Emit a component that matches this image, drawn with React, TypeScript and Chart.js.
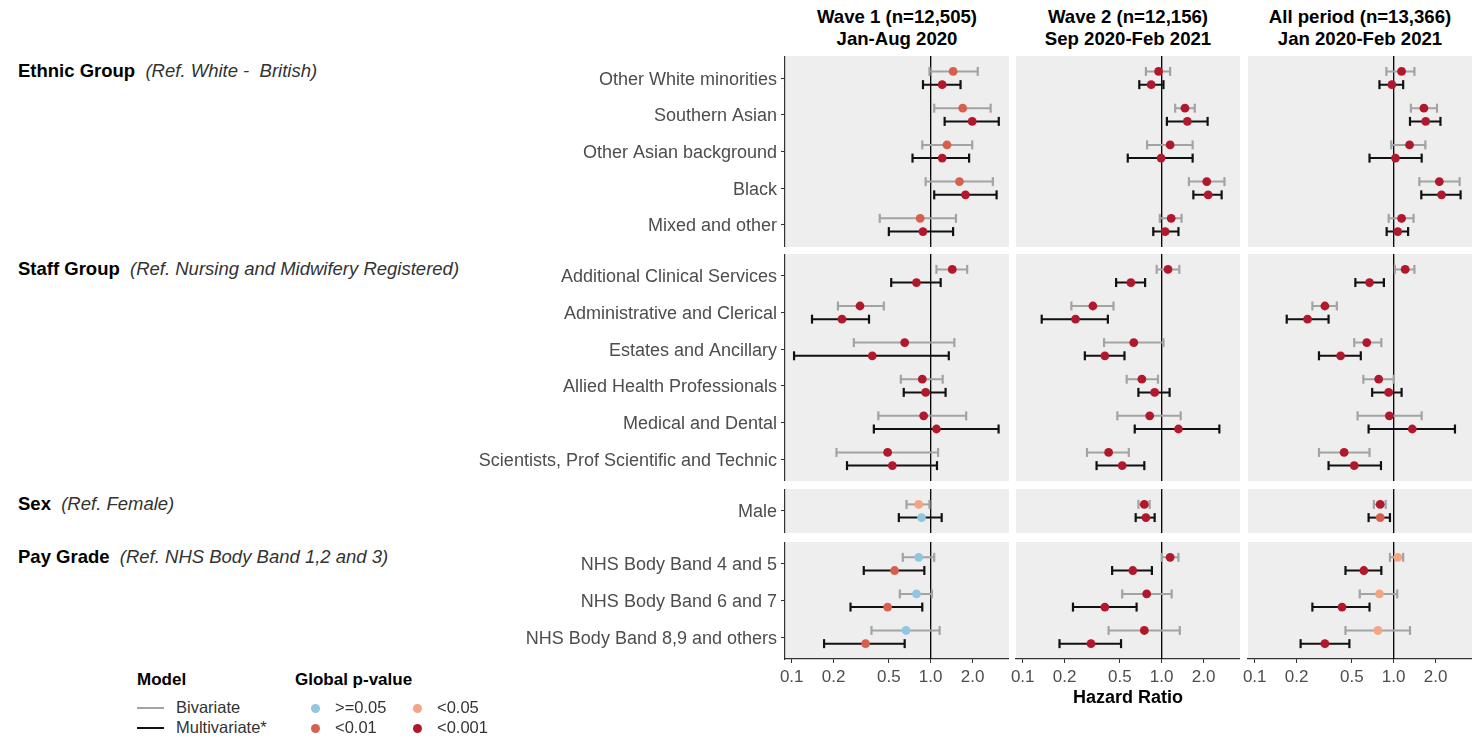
import React, { useEffect, useRef } from "react";
import { Chart, registerables } from "chart.js";

Chart.register(...registerables);

// ---------------- DATA ----------------
const categories = [
  "Other White minorities",
  "Southern Asian",
  "Other Asian background",
  "Black",
  "Mixed and other",
  "Additional Clinical Services",
  "Administrative and Clerical",
  "Estates and Ancillary",
  "Allied Health Professionals",
  "Medical and Dental",
  "Scientists, Prof Scientific and Technic",
  "Male",
  "NHS Body Band 4 and 5",
  "NHS Body Band 6 and 7",
  "NHS Body Band 8,9 and others",
];
const groupSizes = [5, 6, 1, 3];
const groupTitles = ["Ethnic Group", "Staff Group", "Sex", "Pay Grade"];
const groupRefs = [
  "(Ref. White -  British)",
  "(Ref. Nursing and Midwifery Registered)",
  "(Ref. Female)",
  "(Ref. NHS Body Band 1,2 and 3)",
];
const waveTitles = ["Wave 1 (n=12,505)", "Wave 2 (n=12,156)", "All period (n=13,366)"];
const wavePeriods = ["Jan-Aug 2020", "Sep 2020-Feb 2021", "Jan 2020-Feb 2021"];
const xTicks = [0.1, 0.2, 0.5, 1.0, 2.0];
const refLine = 1;
const pLevels = [">=0.05", "<0.05", "<0.01", "<0.001"];
const pColors = ["#92C5DE", "#F4A582", "#D6604D", "#B2182B"];

// Wave 1
const w1BivEst = [1.45, 1.7, 1.31, 1.61, 0.84, 1.43, 0.31, 0.65, 0.87, 0.89, 0.49, 0.82, 0.82, 0.79, 0.665];
const w1BivLo = [0.98, 1.06, 0.87, 0.92, 0.43, 1.1, 0.215, 0.28, 0.61, 0.42, 0.21, 0.67, 0.63, 0.6, 0.375];
const w1BivHi = [2.18, 2.7, 1.99, 2.8, 1.52, 1.83, 0.46, 1.48, 1.22, 1.8, 1.13, 0.98, 1.06, 1.02, 1.16];
const w1BivP = [2, 2, 2, 2, 2, 3, 3, 3, 3, 3, 3, 1, 0, 0, 0];
const w1MulEst = [1.21, 1.99, 1.21, 1.78, 0.88, 0.79, 0.23, 0.38, 0.92, 1.1, 0.53, 0.86, 0.55, 0.49, 0.34];
const w1MulLo = [0.88, 1.26, 0.74, 1.06, 0.5, 0.52, 0.14, 0.104, 0.64, 0.39, 0.25, 0.59, 0.33, 0.265, 0.171];
const w1MulHi = [1.64, 3.09, 1.89, 2.98, 1.45, 1.18, 0.36, 1.35, 1.28, 3.08, 1.11, 1.2, 0.9, 0.87, 0.65];
const w1MulP = [3, 3, 3, 3, 3, 3, 3, 3, 3, 3, 3, 0, 2, 2, 2];

// Wave 2
const w2BivEst = [0.95, 1.47, 1.15, 2.11, 1.17, 1.11, 0.32, 0.63, 0.72, 0.82, 0.415, 0.75, 1.15, 0.78, 0.75];
const w2BivLo = [0.77, 1.25, 0.785, 1.57, 0.97, 0.92, 0.224, 0.385, 0.56, 0.48, 0.29, 0.68, 1.0, 0.52, 0.415];
const w2BivHi = [1.15, 1.73, 1.67, 2.83, 1.39, 1.34, 0.45, 1.03, 0.94, 1.37, 0.58, 0.82, 1.32, 1.18, 1.35];
const w2BivP = [3, 3, 3, 3, 3, 3, 3, 3, 3, 3, 3, 3, 3, 3, 3];
const w2MulEst = [0.84, 1.53, 0.99, 2.16, 1.06, 0.6, 0.24, 0.39, 0.89, 1.32, 0.52, 0.77, 0.62, 0.39, 0.31];
const w2MulLo = [0.69, 1.09, 0.57, 1.69, 0.87, 0.47, 0.137, 0.28, 0.68, 0.64, 0.34, 0.65, 0.44, 0.23, 0.184];
const w2MulHi = [1.03, 2.14, 1.67, 2.7, 1.32, 0.76, 0.41, 0.54, 1.14, 2.6, 0.75, 0.89, 0.85, 0.66, 0.51];
const w2MulP = [3, 3, 3, 3, 3, 3, 3, 3, 3, 3, 3, 3, 3, 3, 3];

// All period
const w3BivEst = [1.14, 1.65, 1.3, 2.13, 1.14, 1.21, 0.32, 0.64, 0.78, 0.93, 0.44, 0.8, 1.07, 0.79, 0.77];
const w3BivLo = [0.886, 1.33, 0.96, 1.53, 0.92, 1.02, 0.26, 0.52, 0.605, 0.55, 0.29, 0.72, 0.94, 0.57, 0.45];
const w3BivHi = [1.41, 2.05, 1.69, 2.98, 1.39, 1.41, 0.39, 0.815, 1.0, 1.59, 0.67, 0.876, 1.17, 1.06, 1.31];
const w3BivP = [3, 3, 3, 3, 3, 3, 3, 3, 3, 3, 3, 3, 1, 1, 1];
const w3MulEst = [0.97, 1.7, 1.03, 2.21, 1.07, 0.67, 0.24, 0.415, 0.92, 1.36, 0.52, 0.8, 0.61, 0.425, 0.32];
const w3MulLo = [0.79, 1.31, 0.67, 1.58, 0.89, 0.53, 0.17, 0.29, 0.7, 0.66, 0.34, 0.66, 0.45, 0.26, 0.214];
const w3MulHi = [1.17, 2.17, 1.59, 3.03, 1.27, 0.85, 0.34, 0.58, 1.14, 2.76, 0.81, 0.94, 0.815, 0.67, 0.48];
const w3MulP = [3, 3, 3, 3, 3, 3, 3, 3, 3, 3, 3, 2, 3, 3, 3];

const waves = [
  { bivEst: w1BivEst, bivLo: w1BivLo, bivHi: w1BivHi, bivP: w1BivP, mulEst: w1MulEst, mulLo: w1MulLo, mulHi: w1MulHi, mulP: w1MulP },
  { bivEst: w2BivEst, bivLo: w2BivLo, bivHi: w2BivHi, bivP: w2BivP, mulEst: w2MulEst, mulLo: w2MulLo, mulHi: w2MulHi, mulP: w2MulP },
  { bivEst: w3BivEst, bivLo: w3BivLo, bivHi: w3BivHi, bivP: w3BivP, mulEst: w3MulEst, mulLo: w3MulLo, mulHi: w3MulHi, mulP: w3MulP },
];

// ---------------- LAYOUT / STYLE ----------------
const FONT = "'Liberation Sans', Arial, Helvetica, sans-serif";
const COL_LEFT = [785, 1016, 1248];
const COL_W = 224;
const ROW_TOP = [56, 254, 489, 542];
const ROW_H = [191, 227, 44, 117];
const Y_AXIS_W = 325;
const X_AXIS_H = 55;
const X_EXTRA = 8;
const DODGE = 0.18;
const X_MIN = 0.0895;
const X_MAX = 3.66;
const BIV_COLOR = "#A3A3A3";
const MUL_COLOR = "#111111";
const PANEL_BG = "#EEEEEE";
const AXIS_COLOR = "#333333";
const TEXT_GREY = "#4D4D4D";

const bgPlugin = {
  id: "panelBg",
  beforeDraw(chart: any) {
    const { ctx, chartArea } = chart;
    if (!chartArea) return;
    ctx.save();
    ctx.fillStyle = PANEL_BG;
    ctx.fillRect(chartArea.left, chartArea.top, chartArea.right - chartArea.left, chartArea.bottom - chartArea.top);
    ctx.restore();
  },
};

function Panel({ wave, group }: { wave: number; group: number }) {
  const ref = useRef<HTMLCanvasElement>(null);
  const showY = wave === 0;
  const showX = group === 3;
  const extraLeft = showY ? Y_AXIS_W : showX ? X_EXTRA : 0;
  const left = COL_LEFT[wave] - extraLeft;
  const width = COL_W + extraLeft;
  const top = ROW_TOP[group];
  const height = ROW_H[group] + (showX ? X_AXIS_H : 0);

  useEffect(() => {
    const start = groupSizes.slice(0, group).reduce((a, b) => a + b, 0);
    const n = groupSizes[group];
    const cats = categories.slice(start, start + n);
    const W = waves[wave];

    const bivPts: any[] = [];
    const bivCols: string[] = [];
    const mulPts: any[] = [];
    const mulCols: string[] = [];
    const bivCI: any[] = [];
    const mulCI: any[] = [];
    for (let i = 0; i < n; i++) {
      const k = start + i;
      const yb = i + 1 - DODGE;
      const ym = i + 1 + DODGE;
      bivPts.push({ x: W.bivEst[k], y: yb });
      bivCols.push(pColors[W.bivP[k]]);
      mulPts.push({ x: W.mulEst[k], y: ym });
      mulCols.push(pColors[W.mulP[k]]);
      bivCI.push({ x: W.bivLo[k], y: yb }, { x: W.bivHi[k], y: yb }, { x: W.bivHi[k], y: null });
      mulCI.push({ x: W.mulLo[k], y: ym }, { x: W.mulHi[k], y: ym }, { x: W.mulHi[k], y: null });
    }

    const ciStyle = (color: string) => ({
      showLine: true,
      spanGaps: false,
      borderColor: color,
      borderWidth: 2,
      pointStyle: "line",
      pointRotation: 90,
      pointRadius: 4.5,
      pointBorderColor: color,
      pointBorderWidth: 2.2,
      pointBackgroundColor: color,
      order: 3,
    });

    const chart = new Chart(ref.current as HTMLCanvasElement, {
      type: "scatter",
      data: {
        datasets: [
          {
            data: [
              { x: refLine, y: 0.4 },
              { x: refLine, y: n + 0.6 },
            ],
            showLine: true,
            borderColor: "#000000",
            borderWidth: 1.3,
            pointRadius: 0,
            order: 5,
          } as any,
          { data: bivCI, ...ciStyle(BIV_COLOR) } as any,
          { data: mulCI, ...ciStyle(MUL_COLOR) } as any,
          {
            data: bivPts,
            pointRadius: 4.4,
            pointStyle: "circle",
            pointBackgroundColor: bivCols,
            pointBorderColor: bivCols,
            pointBorderWidth: 0,
            order: 1,
          } as any,
          {
            data: mulPts,
            pointRadius: 4.4,
            pointStyle: "circle",
            pointBackgroundColor: mulCols,
            pointBorderColor: mulCols,
            pointBorderWidth: 0,
            order: 1,
          } as any,
        ],
      },
      options: {
        responsive: false,
        animation: false,
        events: [],
        layout: { autoPadding: false, padding: { left: !showY && showX ? X_EXTRA : 0, top: 0, right: 0, bottom: 0 } },
        plugins: { legend: { display: false }, tooltip: { enabled: false } },
        scales: {
          x: {
            type: "logarithmic",
            min: X_MIN,
            max: X_MAX,
            display: showX,
            position: "bottom",
            afterBuildTicks: (s: any) => {
              s.ticks = xTicks.map((v) => ({ value: v }));
            },
            afterFit: (s: any) => {
              if (!showX) return;
              s.height = X_AXIS_H;
              s.paddingLeft = 0;
              s.paddingRight = 0;
            },
            ticks: {
              callback: (v: any) => Number(v).toFixed(1),
              font: { family: FONT, size: 17 },
              color: TEXT_GREY,
              padding: 4,
              maxRotation: 0,
              autoSkip: false,
            },
            grid: { display: true, drawOnChartArea: false, drawTicks: true, tickLength: 4, color: AXIS_COLOR, lineWidth: 1 },
            border: { display: true, color: AXIS_COLOR, width: 1.2 },
            title: {
              display: wave === 1,
              text: "Hazard Ratio",
              font: { family: FONT, size: 18, weight: "bold" },
              color: "#000000",
              padding: { top: 0, bottom: 5 },
            },
          } as any,
          y: {
            type: "linear",
            reverse: true,
            min: 0.4,
            max: n + 0.6,
            display: showY,
            position: "left",
            afterBuildTicks: (s: any) => {
              s.ticks = cats.map((_, i) => ({ value: i + 1 }));
            },
            afterFit: (s: any) => {
              if (!showY) return;
              s.width = Y_AXIS_W;
              s.paddingTop = 0;
              s.paddingBottom = 0;
            },
            ticks: {
              callback: (v: any) => cats[Math.round(Number(v)) - 1],
              font: { family: FONT, size: 18 },
              color: TEXT_GREY,
              padding: 4,
              labelOffset: 1.5,
              autoSkip: false,
            },
            grid: { display: true, drawOnChartArea: false, drawTicks: true, tickLength: 4, color: AXIS_COLOR, lineWidth: 1 },
            border: { display: true, color: AXIS_COLOR, width: 1.2 },
          } as any,
        },
      },
      plugins: [bgPlugin],
    } as any);
    return () => chart.destroy();
  }, [wave, group]);

  return (
    <canvas
      ref={ref}
      width={width}
      height={height}
      style={{ position: "absolute", left, top, width, height, display: "block" }}
    />
  );
}

function Txt({ x, cy, size, children, bold, italic, color, align, w }: any) {
  const lh = size * 1.2;
  const style: any = {
    position: "absolute",
    top: cy - lh / 2,
    fontFamily: FONT,
    fontSize: size,
    lineHeight: `${lh}px`,
    fontWeight: bold ? "bold" : "normal",
    fontStyle: italic ? "italic" : "normal",
    color: color || "#000",
    whiteSpace: "pre",
    zIndex: 2,
  };
  if (align === "center") {
    style.left = x;
    style.width = w;
    style.textAlign = "center";
  } else {
    style.left = x;
  }
  return <div style={style}>{children}</div>;
}

export default function App() {
  const panels: any[] = [];
  for (let w = 0; w < 3; w++) for (let g = 0; g < 4; g++) panels.push(<Panel key={`${w}-${g}`} wave={w} group={g} />);

  return (
    <div style={{ position: "absolute", left: 0, top: 0, width: 1480, height: 740, background: "#fff", overflow: "hidden" }}>
      {panels}
      {waveTitles.map((t, i) => (
        <React.Fragment key={t}>
          <Txt x={COL_LEFT[i] - 40} w={COL_W + 80} align="center" cy={17} size={18.6} bold>
            {t}
          </Txt>
          <Txt x={COL_LEFT[i] - 40} w={COL_W + 80} align="center" cy={39} size={18.6} bold>
            {wavePeriods[i]}
          </Txt>
        </React.Fragment>
      ))}
      {groupTitles.map((t, i) => (
        <div
          key={t}
          style={{
            position: "absolute",
            left: 18,
            top: ROW_TOP[i] + 15.5 - 11.1,
            fontFamily: FONT,
            fontSize: 18.5,
            lineHeight: "22.2px",
            whiteSpace: "pre",
            zIndex: 2,
          }}
        >
          <span style={{ fontWeight: "bold", color: "#000" }}>{t}</span>
          <span style={{ fontStyle: "italic", color: "#333" }}>{"  " + groupRefs[i]}</span>
        </div>
      ))}
      {/* Legend */}
      <Txt x={137} cy={680} size={17} bold>
        Model
      </Txt>
      <div style={{ position: "absolute", left: 137, top: 707, width: 27, height: 2, background: BIV_COLOR }} />
      <div style={{ position: "absolute", left: 137, top: 727, width: 27, height: 2, background: MUL_COLOR }} />
      <Txt x={176} cy={708} size={16.5} color="#333">
        Bivariate
      </Txt>
      <Txt x={176} cy={728} size={16.5} color="#333">
        Multivariate*
      </Txt>
      <Txt x={295} cy={680} size={17} bold>
        Global p-value
      </Txt>
      {pLevels.map((lab, i) => {
        const cx = i === 0 || i === 2 ? 315 : 417;
        const cy = i < 2 ? 708 : 728;
        return (
          <React.Fragment key={lab}>
            <div
              style={{
                position: "absolute",
                left: cx - 4.5,
                top: cy - 4.5,
                width: 9,
                height: 9,
                borderRadius: "50%",
                background: pColors[i],
              }}
            />
            <Txt x={cx + 20} cy={cy} size={16.5} color="#333">
              {lab}
            </Txt>
          </React.Fragment>
        );
      })}
    </div>
  );
}
